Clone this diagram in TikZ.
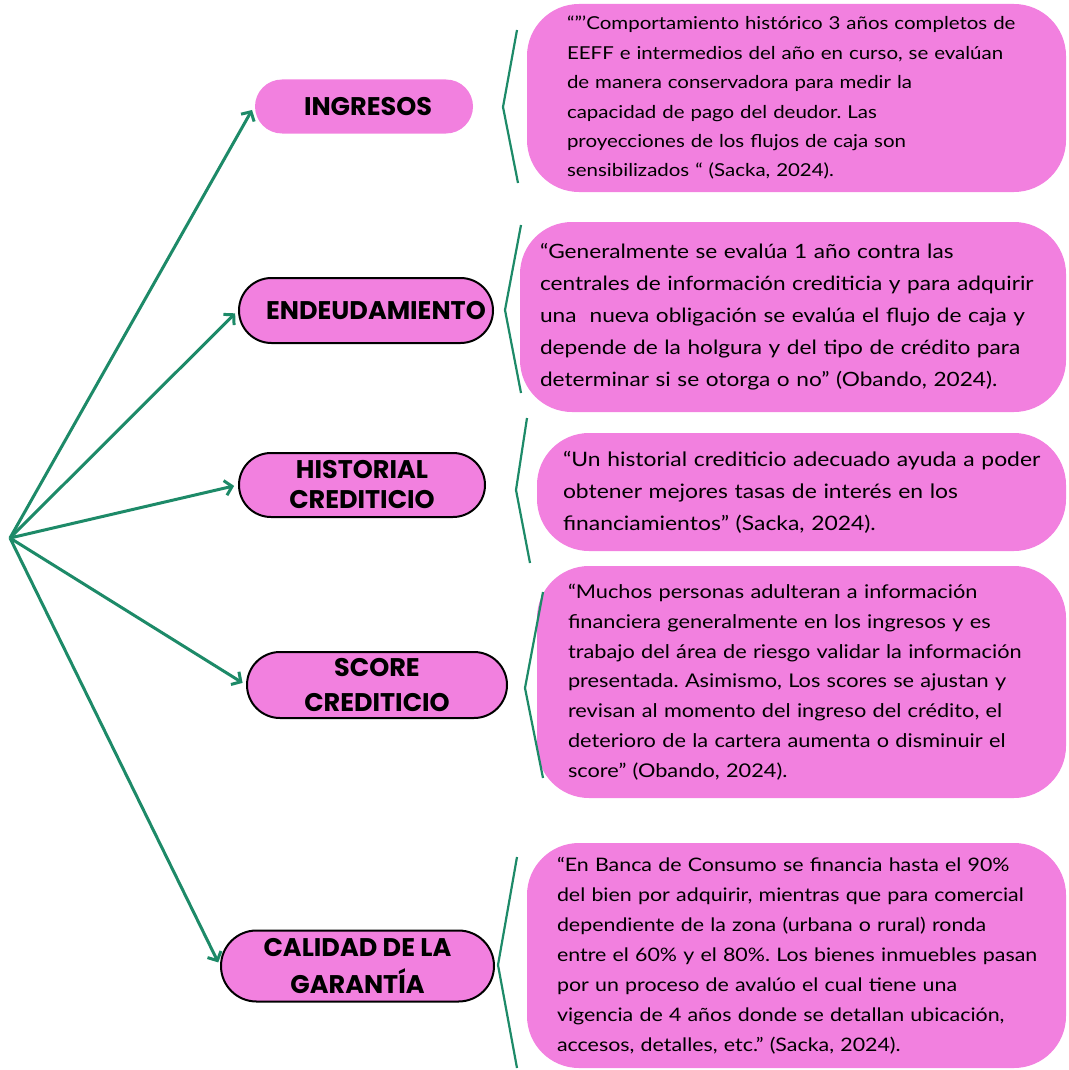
\documentclass[tikz,border=0pt]{standalone}
\usepackage{fontspec}
\setmainfont{Lato}[FakeStretch=1.15]
\newfontfamily\titlefont{Poppins}[UprightFont=* Bold]
\usetikzlibrary{arrows.meta,shapes.misc}
\definecolor{pinkfill}{HTML}{F280DF}
\definecolor{linegreen}{HTML}{1D8A68}
\frenchspacing
\newcommand\qln[1]{\mbox{#1}}
\tikzset{
  pill/.style={rounded rectangle, fill=pinkfill, draw=black, line width=2pt, inner sep=0pt,
    align=center, font=\titlefont\fontsize{25.5}{33}\selectfont},
  quotebox/.style={rectangle, rounded corners=52pt, fill=pinkfill, draw=none, align=left,
    inner ysep=0pt},
  conn/.style={draw=linegreen, line width=3pt, -{Straight Barb[length=7pt,width=15pt]}, shorten >=4pt},
  bracket/.style={draw=linegreen, line width=2.2pt},
}
\begin{document}
\begin{tikzpicture}[x=1pt,y=-1pt]
\useasboundingbox (0,0) rectangle (1068,1070);
% root
\coordinate (root) at (10,538);
% category pills
\node[pill, draw=none, minimum width=218pt, minimum height=54pt] (ing) at (364,106.5) {\hspace*{8pt}INGRESOS};
\node[pill, minimum width=254pt, minimum height=65pt] (end) at (366,310.5) {\hspace*{20pt}ENDEUDAMIENTO};
\node[pill, minimum width=246pt, minimum height=64pt, font=\titlefont\fontsize{25.5}{32}\selectfont] (his) at (362,485) {HISTORIAL\\[-2pt]CREDITICIO};
\node[pill, minimum width=260pt, minimum height=66pt, font=\titlefont\fontsize{25.5}{35}\selectfont] (sco) at (377,685) {SCORE\\CREDITICIO};
\node[pill, minimum width=273pt, minimum height=71pt, font=\titlefont\fontsize{25.5}{37}\selectfont] (cal) at (357.5,966) {CALIDAD DE LA\\GARANTÍA};
% connectors
\draw[conn] (root) -- (ing.west);
\draw[conn] (root) -- (end.west);
\draw[conn] (root) -- (his.west);
\draw[conn] (root) -- (sco.west);
\draw[conn] (root) -- (cal.west);
% quote boxes
\node[quotebox, minimum width=539pt, minimum height=188pt, inner xsep=40pt, text width=459pt,
  font=\fontsize{17.8}{29.4}\selectfont] (q1) at (796.5,98)
  {\qln{“"'Comportamiento histórico 3 años completos de}\\
   \qln{EEFF e intermedios del año en curso, se evalúan}\\
   \qln{de manera conservadora para medir la}\\
   \qln{capacidad de pago del deudor. Las}\\
   \qln{proyecciones de los flujos de caja son}\\
   \qln{sensibilizados “ (Sacka, 2024).}};
\node[quotebox, minimum width=546pt, minimum height=190pt, inner xsep=20pt, text width=506pt,
  font=\fontsize{19.7}{32}\selectfont] (q2) at (793,317)
  {\qln{“Generalmente se evalúa 1 año contra las}\\
   \qln{centrales de información crediticia y para adquirir}\\
   \qln{una\ \ nueva obligación se evalúa el flujo de caja y}\\
   \qln{depende de la holgura y del tipo de crédito para}\\
   \qln{determinar si se otorga o no” (Obando, 2024).}};
\node[quotebox, minimum width=529pt, minimum height=118pt, inner xsep=26pt, text width=477pt,
  font=\fontsize{19.9}{32}\selectfont] (q3) at (801.5,492)
  {\qln{“Un historial crediticio adecuado ayuda a poder}\\
   \qln{obtener mejores tasas de interés en los}\\
   \qln{financiamientos” (Sacka, 2024).}};
\node[quotebox, minimum width=529pt, minimum height=232pt, inner xsep=31pt, text width=467pt,
  font=\fontsize{18.9}{29.8}\selectfont] (q4) at (801.5,682)
  {\qln{“Muchos personas adulteran a información}\\
   \qln{financiera generalmente en los ingresos y es}\\
   \qln{trabajo del área de riesgo validar la información}\\
   \qln{presentada. Asimismo, Los scores se ajustan y}\\
   \qln{revisan al momento del ingreso del crédito, el}\\
   \qln{deterioro de la cartera aumenta o disminuir el}\\
   \qln{score” (Obando, 2024).}};
\node[quotebox, minimum width=539pt, minimum height=225pt, inner xsep=30pt, text width=479pt,
  font=\fontsize{18.6}{30}\selectfont] (q5) at (796.5,955.5)
  {\qln{“En Banca de Consumo se financia hasta el 90\%}\\
   \qln{del bien por adquirir, mientras que para comercial}\\
   \qln{dependiente de la zona (urbana o rural) ronda}\\
   \qln{entre el 60\% y el 80\%. Los bienes inmuebles pasan}\\
   \qln{por un proceso de avalúo el cual tiene una}\\
   \qln{vigencia de 4 años donde se detallan ubicación,}\\
   \qln{accesos, detalles, etc.” (Sacka, 2024).}};
% brackets
\coordinate (b1t) at (517,30);  \coordinate (b1m) at (503,107); \coordinate (b1b) at (518,183);
\coordinate (b2t) at (521,225); \coordinate (b2m) at (505,310); \coordinate (b2b) at (521,393);
\coordinate (b3t) at (527,418); \coordinate (b3m) at (516,490); \coordinate (b3b) at (530,563);
\coordinate (b4t) at (543,592); \coordinate (b4m) at (525,688); \coordinate (b4b) at (543,778);
\coordinate (b5t) at (517,857); \coordinate (b5m) at (498,965); \coordinate (b5b) at (517,1068);
\draw[bracket] (b1t) -- (b1m) -- (b1b);
\draw[bracket] (b2t) -- (b2m) -- (b2b);
\draw[bracket] (b3t) -- (b3m) -- (b3b);
\draw[bracket] (b4t) -- (b4m) -- (b4b);
\draw[bracket] (b5t) -- (b5m) -- (b5b);
\end{tikzpicture}
\end{document}
